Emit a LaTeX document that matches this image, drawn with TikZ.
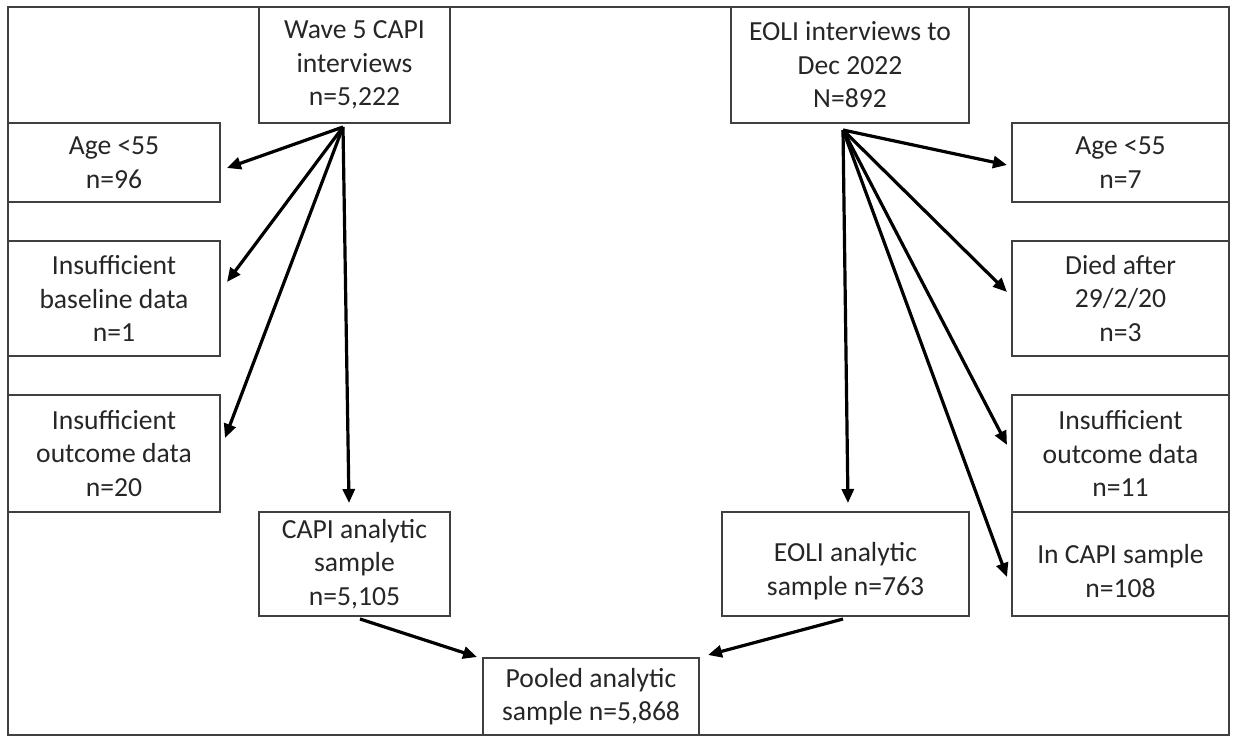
\documentclass[tikz,border=0pt]{standalone}
\usepackage{fontspec}
\setmainfont{Carlito}
\usetikzlibrary{arrows.meta}
\tikzset{
  box/.style={draw=black!75, line width=0.75pt, inner sep=0pt, outer sep=0pt, align=center,
    text=black!85, font=\fontsize{13.8}{16.75}\selectfont},
  arr/.style={line width=1.6pt, -{Triangle[length=7pt,width=6pt]}}
}
\begin{document}
\begin{tikzpicture}[x=0.5pt, y=-0.5pt]
\useasboundingbox (0,0) rectangle (1238,744);
%frame:
\draw[draw=black!75, line width=0.75pt] (8,7) rectangle (1229,735);
%CAPI side:
\node[box, minimum width=95.5pt, minimum height=58pt] (wave) at (354.5,65) {Wave 5 CAPI\\interviews\\n=5,222};
\node[box, minimum width=106pt, minimum height=39.5pt] (agel) at (114,162.5) {Age {<}55\\n=96};
\node[box, minimum width=106pt, minimum height=57.5pt] (basel) at (114,298.5) {Insufficient\\baseline data\\n=1};
\node[box, minimum width=106pt, minimum height=58.5pt] (outl) at (114,453.5) {Insufficient\\outcome data\\n=20};
\node[box, minimum width=95.5pt, minimum height=52pt] (capi) at (354.5,564) {CAPI analytic\\sample\\n=5,105};
%EOLI side:
\node[box, minimum width=119pt, minimum height=58pt] (eoli) at (850,65) {EOLI interviews to\\Dec 2022\\N=892};
\node[box, minimum width=108.5pt, minimum height=39.5pt] (ager) at (1120.5,162.5) {Age {<}55\\n=7};
\node[box, minimum width=108.5pt, minimum height=57.5pt] (died) at (1120.5,298.5) {Died after\\29/2/20\\n=3};
\node[box, minimum width=108.5pt, minimum height=58.5pt] (outr) at (1120.5,453.5) {Insufficient\\outcome data\\n=11};
\node[box, minimum width=108.5pt, minimum height=52pt] (incapi) at (1120.5,564) {\mbox{}\\In CAPI sample\\n=108};
\node[box, minimum width=123.5pt, minimum height=52pt] (eana) at (845.5,564) {\mbox{}\\EOLI analytic\\sample n=763};
%pooled:
\node[box, minimum width=108pt, minimum height=38.5pt] (pool) at (591,696.5) {Pooled analytic\\sample n=5,868};
%fans:
\coordinate (wfan) at ([xshift=-5.75pt,yshift=-2pt]wave.south);
\coordinate (efan) at ([xshift=-3.5pt,yshift=-3.5pt]eoli.south);
\draw[arr] (wfan) -- ([xshift=3.5pt,yshift=-2.75pt]agel.east);
\draw[arr] (wfan) -- ([xshift=3.5pt,yshift=8.25pt]basel.east);
\draw[arr] (wfan) -- ([xshift=2.5pt,yshift=7.75pt]outl.east);
\draw[arr] (wfan) -- ([xshift=-2.75pt,yshift=4.5pt]capi.north);
\draw[arr] (efan) -- ([xshift=-2.5pt,yshift=-1.25pt]ager.west);
\draw[arr] (efan) -- ([xshift=-2.5pt,yshift=3.25pt]died.west);
\draw[arr] (efan) -- ([xshift=-2.5pt,yshift=4.25pt]outr.west);
\draw[arr] (efan) -- ([xshift=-2.5pt,yshift=-6.5pt]incapi.west);
\draw[arr] (efan) -- ([xshift=1.25pt,yshift=4.5pt]eana.north);
%to pooled:
\draw[arr] ([xshift=2.75pt,yshift=-1.5pt]capi.south) -- ([xshift=-3pt,yshift=0.5pt]pool.north west);
\draw[arr] ([xshift=-1.25pt,yshift=-1.5pt]eana.south) -- ([xshift=4.5pt,yshift=1.5pt]pool.north east);
\end{tikzpicture}
\end{document}
